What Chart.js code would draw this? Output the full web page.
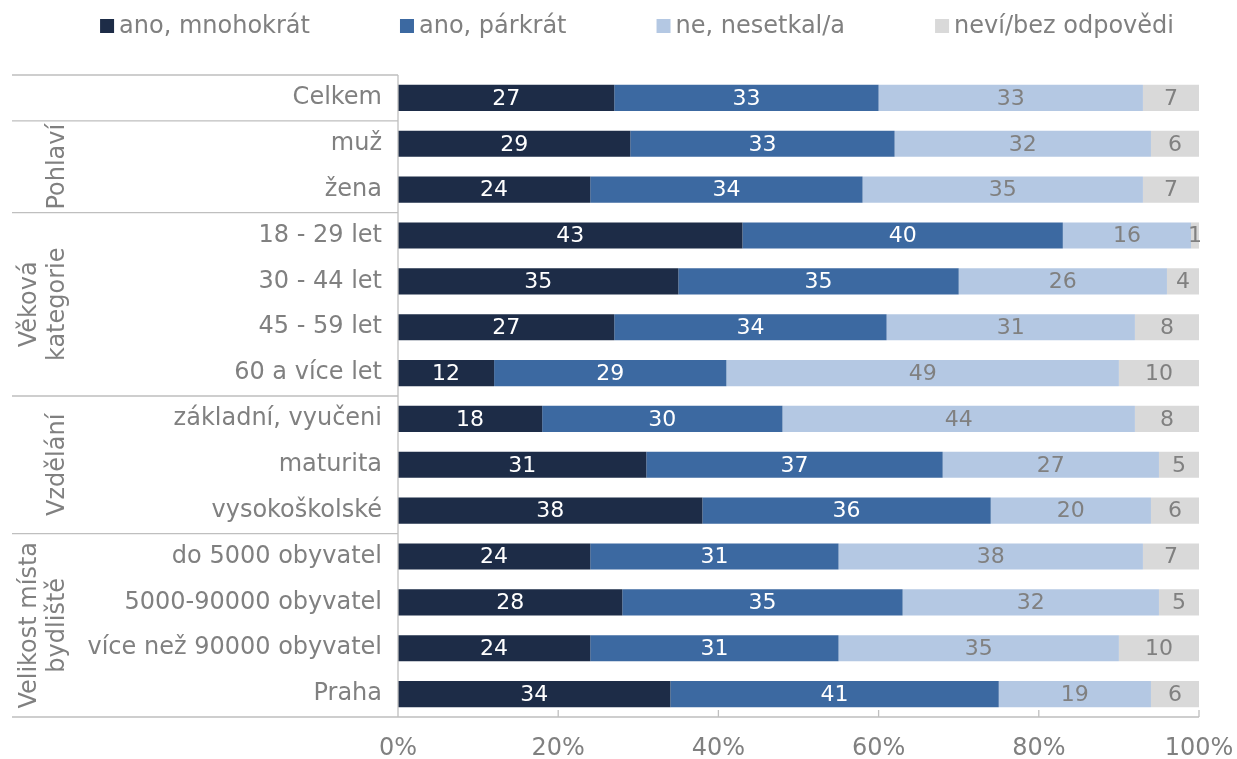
<!DOCTYPE html>
<html>
<head>
<meta charset="utf-8">
<script src="https://cdn.jsdelivr.net/npm/chart.js@4.4.1/dist/chart.umd.min.js"></script>
<style>
  html, body { margin: 0; padding: 0; background: #fff; }
  #wrap { width: 1237px; height: 759px; }
</style>
</head>
<body>
<div id="wrap"><canvas id="chart" width="1237" height="759"></canvas></div>
<script>
const categories = [
  "Celkem", "muž", "žena", "18 - 29 let", "30 - 44 let", "45 - 59 let", "60 a více let",
  "základní, vyučeni", "maturita", "vysokoškolské",
  "do 5000 obyvatel", "5000-90000 obyvatel", "více než 90000 obyvatel", "Praha"
];
const seriesNames = ["ano, mnohokrát", "ano, párkrát", "ne, nesetkal/a", "neví/bez odpovědi"];
const manyTimes = [27, 29, 24, 43, 35, 27, 12, 18, 31, 38, 24, 28, 24, 34];
const fewTimes = [33, 33, 34, 40, 35, 34, 29, 30, 37, 36, 31, 35, 31, 41];
const never = [33, 32, 35, 16, 26, 31, 49, 44, 27, 20, 38, 32, 35, 19];
const dontKnow = [7, 6, 7, 1, 4, 8, 10, 8, 5, 6, 7, 5, 10, 6];
const xTicks = [0, 20, 40, 60, 80, 100];

// row groups shown on the left (first/last category index of each)
const groupNames = [[], ["Pohlaví"], ["Věková", "kategorie"], ["Vzdělání"], ["Velikost místa", "bydliště"]];
const groupStarts = [0, 1, 3, 7, 10];
const groupEnds = [0, 2, 6, 9, 13];

const colors = ["#1d2c47", "#3c69a1", "#b4c8e3", "#d9d9d9"];
const labelColors = ["#ffffff", "#ffffff", "#808080", "#808080"];
const textGray = "#808080";
const lineGray = "#bfbfbf";
const fontFamily = '"DejaVu Sans", Verdana, sans-serif';

Chart.defaults.font.family = fontFamily;

const barLabelsPlugin = {
  id: "barLabels",
  afterDatasetsDraw(chart) {
    const { ctx } = chart;
    ctx.save();
    ctx.font = `22px ${fontFamily}`;
    ctx.textAlign = "center";
    ctx.textBaseline = "middle";
    chart.data.datasets.forEach((dataset, i) => {
      const meta = chart.getDatasetMeta(i);
      meta.data.forEach((bar, j) => {
        const { x, base, y } = bar.getProps(["x", "base", "y"], true);
        ctx.fillStyle = labelColors[i];
        ctx.fillText(String(dataset.data[j]), (x + base) / 2, y + 1);
      });
    });
    ctx.restore();
  },
};

const frameAndGroupsPlugin = {
  id: "frameAndGroups",
  afterDraw(chart) {
    const { ctx, chartArea } = chart;
    const yScale = chart.scales.y;
    const xScale = chart.scales.x;
    const leftEdge = 12;

    const boundary = (index) => {
      if (index <= 0) return chartArea.top;
      if (index >= categories.length) return chartArea.bottom;
      return (yScale.getPixelForValue(index - 1) + yScale.getPixelForValue(index)) / 2;
    };

    ctx.save();
    ctx.strokeStyle = lineGray;
    ctx.lineWidth = 1.3;

    // axis lines
    ctx.beginPath();
    ctx.moveTo(chartArea.left, chartArea.top);
    ctx.lineTo(chartArea.left, chartArea.bottom);
    ctx.moveTo(leftEdge, chartArea.bottom);
    ctx.lineTo(chartArea.right, chartArea.bottom);
    ctx.moveTo(leftEdge, chartArea.top);
    ctx.lineTo(chartArea.left, chartArea.top);
    groupEnds.forEach((end) => {
      const y = boundary(end + 1);
      ctx.moveTo(leftEdge, y);
      ctx.lineTo(chartArea.left, y);
    });
    // inside tick marks
    xTicks.forEach((value) => {
      const x = xScale.getPixelForValue(value);
      ctx.moveTo(x, chartArea.bottom);
      ctx.lineTo(x, chartArea.bottom - 7);
    });
    ctx.stroke();

    // rotated group names
    ctx.fillStyle = textGray;
    ctx.font = `24px ${fontFamily}`;
    ctx.textAlign = "center";
    ctx.textBaseline = "middle";
    groupNames.forEach((lines, g) => {
      if (!lines.length) return;
      const cy = (boundary(groupStarts[g]) + boundary(groupEnds[g] + 1)) / 2;
      lines.forEach((line, i) => {
        const x = 58 - (lines.length - 1 - i) * 28;
        ctx.save();
        ctx.translate(x, cy);
        ctx.rotate(-Math.PI / 2);
        ctx.fillText(line, 0, 0);
        ctx.restore();
      });
    });
    ctx.restore();
  },
};

const legendPlugin = {
  id: "topLegend",
  afterDraw(chart) {
    const { ctx } = chart;
    const boxSize = 14;
    const boxGap = 5;
    const itemGap = 90;
    const centerX = 637;
    const centerY = 26;
    ctx.save();
    ctx.font = `24px ${fontFamily}`;
    ctx.textBaseline = "middle";
    ctx.textAlign = "left";
    const items = chart.data.datasets.map((ds) => ({
      text: ds.label,
      color: ds.backgroundColor,
      width: boxSize + boxGap + ctx.measureText(ds.label).width,
    }));
    const total = items.reduce((sum, item) => sum + item.width, 0) + itemGap * (items.length - 1);
    let x = centerX - total / 2;
    items.forEach((item) => {
      ctx.fillStyle = item.color;
      ctx.fillRect(x, centerY - boxSize / 2, boxSize, boxSize);
      ctx.fillStyle = textGray;
      ctx.fillText(item.text, x + boxSize + boxGap, centerY + 1);
      x += item.width + itemGap;
    });
    ctx.restore();
  },
};

const seriesValues = [manyTimes, fewTimes, never, dontKnow];

new Chart(document.getElementById("chart"), {
  type: "bar",
  data: {
    labels: categories,
    datasets: seriesValues.map((values, i) => ({
      label: seriesNames[i],
      data: values,
      backgroundColor: colors[i],
      borderWidth: 0,
      barPercentage: 0.57,
      categoryPercentage: 1,
    })),
  },
  options: {
    indexAxis: "y",
    responsive: false,
    animation: false,
    layout: { padding: { top: 75, right: 38, left: 0, bottom: 0 } },
    plugins: {
      legend: { display: false },
      tooltip: { enabled: false },
    },
    scales: {
      x: {
        stacked: true,
        min: 0,
        max: 100,
        afterBuildTicks(scale) {
          scale.ticks = xTicks.map((value) => ({ value }));
        },
        afterFit(scale) {
          scale.height = 42;
          scale.paddingLeft = 0;
          scale.paddingRight = 0;
        },
        ticks: {
          color: textGray,
          font: { size: 24 },
          padding: 17,
          maxRotation: 0,
          callback: (value) => `${value}%`,
        },
        grid: { display: false, drawTicks: false },
        border: { display: false },
      },
      y: {
        stacked: true,
        afterFit(scale) {
          scale.width = 398;
        },
        ticks: {
          color: textGray,
          font: { size: 24 },
          padding: 16,
          autoSkip: false,
        },
        grid: { display: false, drawTicks: false },
        border: { display: false },
      },
    },
  },
  plugins: [barLabelsPlugin, frameAndGroupsPlugin, legendPlugin],
});
</script>
</body>
</html>
